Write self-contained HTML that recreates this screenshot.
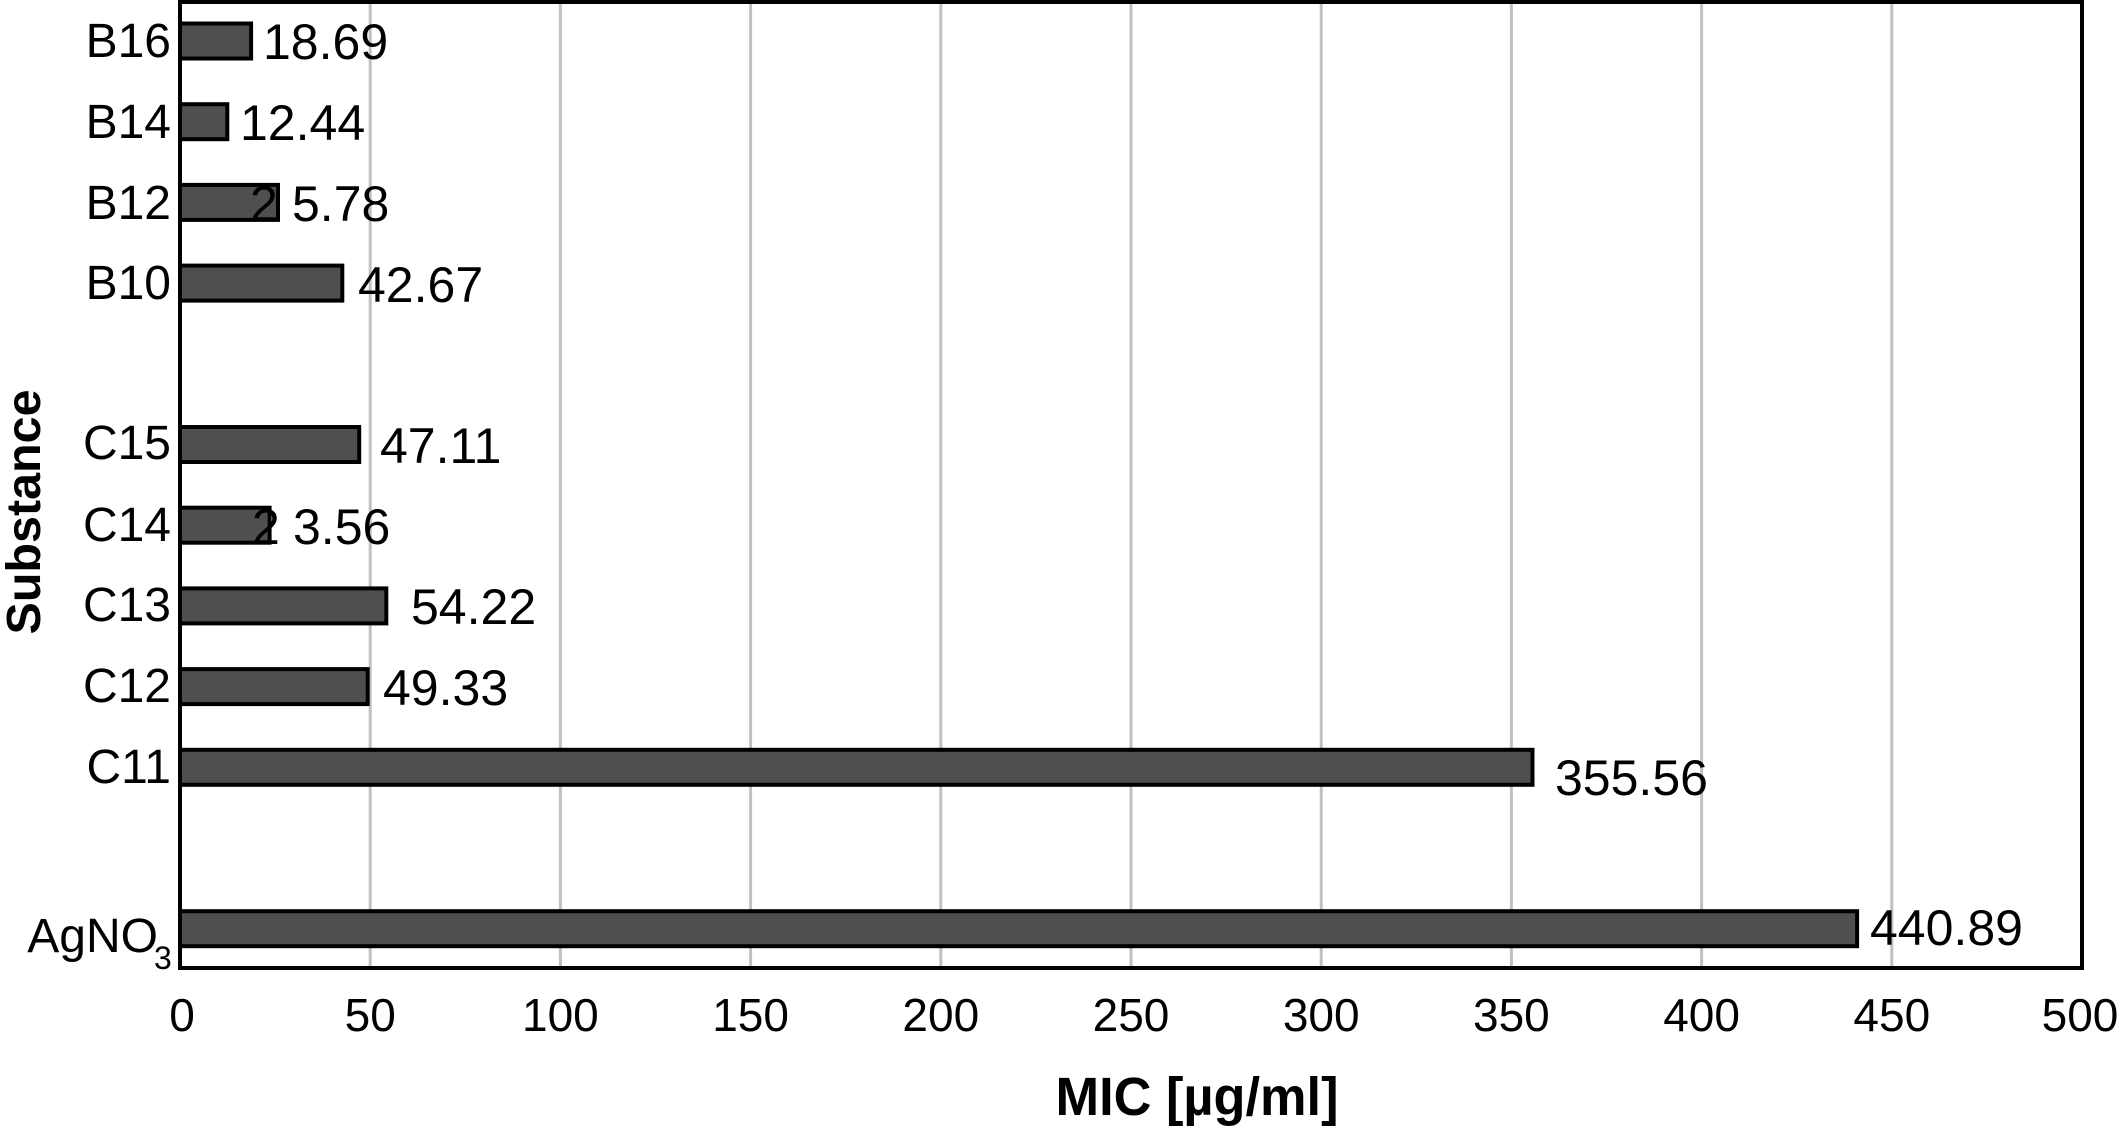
<!DOCTYPE html>
<html><head><meta charset="utf-8"><style>html,body{margin:0;padding:0;background:#fff}svg{display:block}</style></head>
<body>
<svg width="2124" height="1126" viewBox="0 0 2124 1126" xmlns="http://www.w3.org/2000/svg" font-family="'Liberation Sans', sans-serif">
<rect width="2124" height="1126" fill="#fff"/>
<g stroke="#c0c0c0" stroke-width="3">
<line x1="370.2" y1="2" x2="370.2" y2="968"/>
<line x1="560.4" y1="2" x2="560.4" y2="968"/>
<line x1="750.6" y1="2" x2="750.6" y2="968"/>
<line x1="940.8" y1="2" x2="940.8" y2="968"/>
<line x1="1131" y1="2" x2="1131" y2="968"/>
<line x1="1321.2" y1="2" x2="1321.2" y2="968"/>
<line x1="1511.4" y1="2" x2="1511.4" y2="968"/>
<line x1="1701.6" y1="2" x2="1701.6" y2="968"/>
<line x1="1891.8" y1="2" x2="1891.8" y2="968"/>
</g>
<rect x="180" y="2" width="1902" height="966" fill="none" stroke="#000" stroke-width="4"/>
<g fill="#4f4f4f" stroke="#000" stroke-width="4">
<rect x="180" y="23.5" width="71.1" height="35"/>
<rect x="180" y="104.2" width="47.3" height="35"/>
<rect x="180" y="184.9" width="98" height="35"/>
<rect x="180" y="265.6" width="162.3" height="35"/>
<rect x="180" y="427" width="179.2" height="35"/>
<rect x="180" y="507.7" width="89.6" height="35"/>
<rect x="180" y="588.4" width="206.3" height="35"/>
<rect x="180" y="669.1" width="187.7" height="35"/>
<rect x="180" y="749.8" width="1352.5" height="35"/>
<rect x="180" y="911.2" width="1677.1" height="35"/>
</g>
<g font-size="50" fill="#000">
<text x="263" y="59">18.69</text>
<text x="240" y="140">12.44</text>
<text x="250" y="221">2</text><text x="292" y="221">5.78</text>
<text x="358" y="302">42.67</text>
<text x="380" y="463">47.11</text>
<text x="252" y="544">2</text><text x="293" y="544">3.56</text>
<text x="411" y="624">54.22</text>
<text x="383" y="705">49.33</text>
<text x="1555" y="795">355.56</text>
<text x="1870" y="945">440.89</text>
</g>
<g font-size="48" fill="#000" text-anchor="end">
<text x="171" y="57">B16</text>
<text x="171" y="138">B14</text>
<text x="171" y="219">B12</text>
<text x="171" y="299">B10</text>
<text x="171" y="459">C15</text>
<text x="171" y="541">C14</text>
<text x="171" y="621">C13</text>
<text x="171" y="702">C12</text>
<text x="171" y="783">C11</text>
<text x="158" y="952">AgNO</text>
</g>
<text x="154" y="969" font-size="32">3</text>
<g font-size="46" fill="#000" text-anchor="middle">
<text x="182" y="1031">0</text>
<text x="370.2" y="1031">50</text>
<text x="560.4" y="1031">100</text>
<text x="750.6" y="1031">150</text>
<text x="940.8" y="1031">200</text>
<text x="1131" y="1031">250</text>
<text x="1321.2" y="1031">300</text>
<text x="1511.4" y="1031">350</text>
<text x="1701.6" y="1031">400</text>
<text x="1891.8" y="1031">450</text>
<text x="2080" y="1031">500</text>
</g>
<text x="1197" y="1115" font-size="54" font-weight="bold" text-anchor="middle" textLength="283" lengthAdjust="spacingAndGlyphs">MIC [µg/ml]</text>
<text transform="translate(40,512) rotate(-90)" font-size="48" font-weight="bold" text-anchor="middle" textLength="245" lengthAdjust="spacingAndGlyphs">Substance</text>
</svg>
</body></html>
